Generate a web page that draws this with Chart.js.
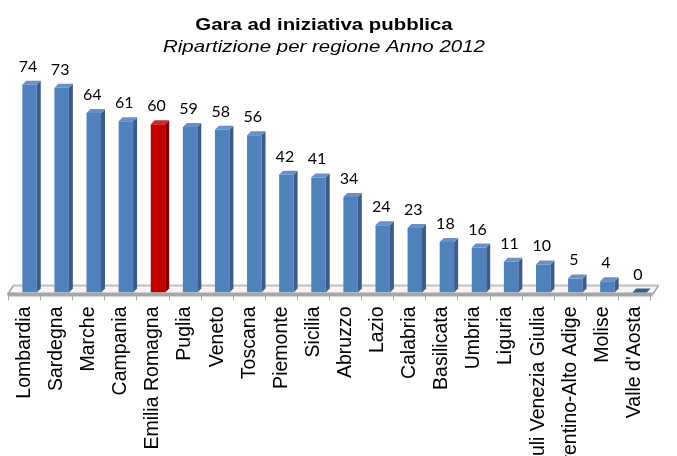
<!DOCTYPE html>
<html>
<head>
<meta charset="utf-8">
<script src="https://cdn.jsdelivr.net/npm/chart.js@4"></script>
<style>
  html, body { margin: 0; padding: 0; background: #fff; }
  #frame { width: 677px; height: 456px; overflow: hidden; }
  #box { width: 677px; height: 500px; position: relative; }
</style>
</head>
<body>
<div id="frame"><div id="box"><canvas id="regioniChart"></canvas></div></div>
<script>
const regions = ['Lombardia', 'Sardegna', 'Marche', 'Campania', 'Emilia Romagna', 'Puglia', 'Veneto',
    'Toscana', 'Piemonte', 'Sicilia', 'Abruzzo', 'Lazio', 'Calabria', 'Basilicata', 'Umbria',
    'Liguria', 'Friuli Venezia Giulia', 'Trentino-Alto Adige', 'Molise', "Valle d'Aosta"];
const gare = [74, 73, 64, 61, 60, 59, 58, 56, 42, 41, 34, 24, 23, 18, 16, 11, 10, 5, 4, 0];
const highlighted = 'Emilia Romagna';

const titleText = 'Gara ad iniziativa pubblica';
const subtitleText = 'Ripartizione per regione Anno 2012';

// front / side / top colours of the 3d columns
const blue = ['#4F81BD', '#385D8A', '#6A8FC4'];
const red = ['#C00000', '#7F0000', '#CC2A2A'];
let faceColors = regions.map(r => r === highlighted ? red : blue);

const depth = 4;      // column depth
const floorDepth = 6; // floor depth

const bar3d = {
    id: 'bar3d',
    beforeDatasetsDraw(chart) {
        const ctx = chart.ctx;
        const xs = chart.scales.x;
        const base = chart.scales.y.getPixelForValue(0);
        const left = xs.left, right = xs.right;
        const step = xs.width / regions.length;
        ctx.save();
        // floor surface
        ctx.fillStyle = '#f6f6f6';
        ctx.beginPath();
        ctx.moveTo(left - floorDepth, base + 1);
        ctx.lineTo(left, base - floorDepth - 1);
        ctx.lineTo(right + 3, base - floorDepth - 1);
        ctx.lineTo(right - floorDepth + 3, base + 1);
        ctx.closePath();
        ctx.fill();
        // back edge
        ctx.strokeStyle = '#BFBFBF';
        ctx.lineWidth = 2;
        ctx.beginPath();
        ctx.moveTo(left, base - floorDepth - 1);
        ctx.lineTo(right + 3, base - floorDepth - 1);
        ctx.stroke();
        // side edges
        ctx.lineWidth = 1.5;
        ctx.strokeStyle = '#A6A6A6';
        ctx.beginPath();
        ctx.moveTo(left - floorDepth, base + 2);
        ctx.lineTo(left, base - floorDepth - 1);
        ctx.moveTo(right - floorDepth + 3, base + 2);
        ctx.lineTo(right + 3, base - floorDepth - 1);
        ctx.stroke();
        // front edge
        ctx.fillStyle = '#A6A6A6';
        ctx.fillRect(left - floorDepth, base, xs.width + 3, 4);
        // tick marks
        ctx.strokeStyle = '#A6A6A6';
        ctx.lineWidth = 1;
        ctx.beginPath();
        for (let i = 0; i <= regions.length; i++) {
            let tx = Math.round(left - floorDepth + 0.5 + i * step) + 0.5;
            ctx.moveTo(tx, base + 3);
            ctx.lineTo(tx, base + 8);
        }
        ctx.stroke();
        ctx.restore();
    },
    afterDatasetsDraw(chart) {
        const ctx = chart.ctx;
        const meta = chart.getDatasetMeta(0);
        ctx.save();
        meta.data.forEach((bar, i) => {
            const p = bar.getProps(['x', 'y', 'base', 'width'], true);
            const xl = p.x - p.width / 2, xr = p.x + p.width / 2;
            const col = faceColors[i];
            // side face
            ctx.fillStyle = col[1];
            ctx.beginPath();
            ctx.moveTo(xr, p.y);
            ctx.lineTo(xr + depth, p.y - depth);
            ctx.lineTo(xr + depth, p.base - depth);
            ctx.lineTo(xr, p.base);
            ctx.closePath();
            ctx.fill();
            // top face
            ctx.fillStyle = gare[i] === 0 ? col[1] : col[2];
            ctx.beginPath();
            ctx.moveTo(xl, p.y);
            ctx.lineTo(xl + depth, p.y - depth);
            ctx.lineTo(xr + depth, p.y - depth);
            ctx.lineTo(xr, p.y);
            ctx.closePath();
            ctx.fill();
            // value label
            ctx.fillStyle = '#000';
            ctx.font = '16px Lato, "Open Sans", sans-serif';
            ctx.textAlign = 'center';
            ctx.textBaseline = 'alphabetic';
            ctx.fillText(String(gare[i]), p.x - 1.5, p.y - 13);
        });
        ctx.restore();
    },
    afterDraw(chart) {
        // title block, a bit left of the canvas centre as in the original
        const ctx = chart.ctx;
        ctx.save();
        ctx.fillStyle = '#000';
        ctx.textAlign = 'center';
        ctx.textBaseline = 'alphabetic';
        ctx.translate(324, 30);
        ctx.scale(1.2, 1);
        ctx.font = 'bold 17px "Liberation Sans", Arial, sans-serif';
        ctx.fillText(titleText, 0, 0);
        ctx.restore();
        ctx.save();
        ctx.fillStyle = '#000';
        ctx.textAlign = 'center';
        ctx.textBaseline = 'alphabetic';
        ctx.translate(324, 52);
        ctx.scale(1.24, 1);
        ctx.font = 'italic 16.5px "Liberation Sans", Arial, sans-serif';
        ctx.fillText(subtitleText, 0, 0);
        ctx.restore();
    }
};

const cnv = document.getElementById('regioniChart');

new Chart(cnv, {
    type: 'bar',
    data: {
        labels: regions,
        datasets: [{
            label: 'Gare',
            data: gare,
            backgroundColor: faceColors.map(c => c[0]),
            borderWidth: 0,
            categoryPercentage: 1,
            barPercentage: 0.45
        }]
    },
    options: {
        responsive: true,
        maintainAspectRatio: false,
        devicePixelRatio: 1,
        animation: false,
        layout: { padding: { top: 68, left: 13.5, right: 3.5, bottom: 0 } },
        scales: {
            x: {
                grid: { display: false, drawTicks: false },
                border: { display: false },
                ticks: {
                    autoSkip: false,
                    minRotation: 90,
                    maxRotation: 90,
                    padding: 14,
                    labelOffset: -5,
                    color: '#000',
                    font: { family: '"Liberation Sans", Arial, sans-serif', size: 19.5 }
                },
                afterFit(scale) { scale.height = 500 - 292.5; }
            },
            y: {
                display: false,
                min: 0,
                max: 80
            }
        },
        plugins: {
            legend: { display: false },
            tooltip: { enabled: false },
            title: { display: false }
        }
    },
    plugins: [bar3d]
});
</script>
</body>
</html>
